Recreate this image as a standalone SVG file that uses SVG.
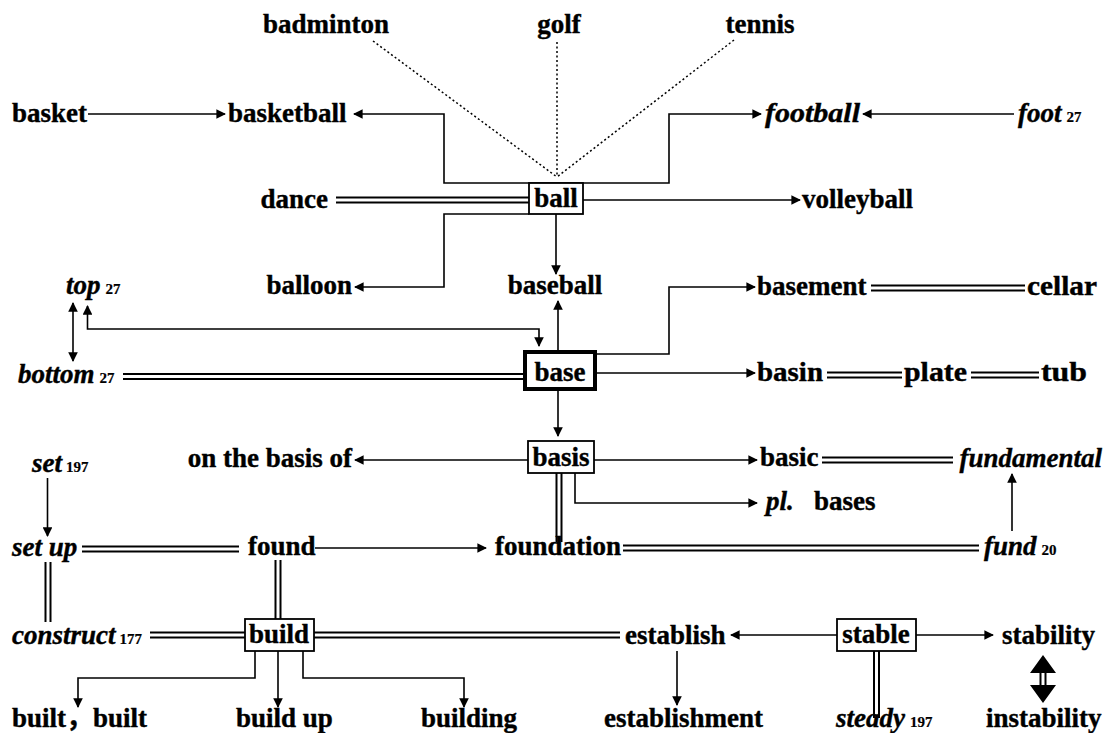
<svg xmlns="http://www.w3.org/2000/svg" width="1110" height="733" viewBox="0 0 1110 733">
<style>
text{font-family:"Liberation Serif","Times New Roman","Noto Sans CJK SC",serif;font-weight:bold;font-size:27px;fill:#000;stroke:#000;stroke-width:0.4}
.i{font-style:italic}
.s{font-size:15px;font-style:normal;stroke-width:0.2}
.m{text-anchor:middle}
.e{text-anchor:end}
.ar{fill:none;stroke:#000;stroke-width:1.6;marker-end:url(#ah)}
.ar2{fill:none;stroke:#000;stroke-width:1.6;marker-end:url(#ah);marker-start:url(#ahs)}
.dl{fill:none;stroke:#000;stroke-width:2}
.dot{fill:none;stroke:#000;stroke-width:1.5;stroke-dasharray:2 2.5}
.box{fill:#fff;stroke:#000;stroke-width:1.8}
</style>
<defs>
<marker id="ah" viewBox="0 0 10 10" refX="9" refY="5" markerWidth="6" markerHeight="6" markerUnits="strokeWidth" orient="auto"><path d="M0,0 L10,5 L0,10 z" fill="#000"/></marker>
<marker id="ahs" viewBox="0 0 10 10" refX="1" refY="5" markerWidth="6" markerHeight="6" markerUnits="strokeWidth" orient="auto"><path d="M10,0 L0,5 L10,10 z" fill="#000"/></marker>
</defs>
<rect width="1110" height="733" fill="#fff"/>
<g id="connectors">
<path class="dot" d="M373,41 L557,177 M557,42 L557,177 M734,40 L557,177"/>
<path class="ar" d="M88,114 H225"/>
<path class="ar" d="M556,183 H444 V114 H354"/>
<path class="ar" d="M556,183 H669 V114 H761"/>
<path class="ar" d="M1014,114 H863"/>
<path class="dl" d="M336,197.5 H529 M336,202.5 H529"/>
<path class="ar" d="M583,200 H800"/>
<path class="ar" d="M529,214 H444 V287 H355"/>
<path class="ar" d="M556,214 V274"/>
<path class="ar" d="M558,352 V301"/>
<path class="ar2" d="M87.5,306 V329 H539 V346"/>
<path class="ar2" d="M73,303 V361"/>
<path class="dl" d="M123,374 H525 M123,379 H525"/>
<path class="ar" d="M595,354 H669 V287 H755"/>
<path class="ar" d="M595,373 H755"/>
<path class="dl" d="M871,285.5 H1025 M871,290.5 H1025"/>
<path class="dl" d="M827,372.5 H902 M827,377.5 H902 M971,372.5 H1039 M971,377.5 H1039"/>
<path class="ar" d="M558,389 V436"/>
<path class="ar" d="M528,460 H355"/>
<path class="ar" d="M594,460 H757"/>
<path class="ar" d="M575,473 V503 H757"/>
<path class="dl" d="M556.5,473 V542 M561.5,473 V542"/>
<path class="dl" d="M822,457.5 H953 M822,462.5 H953"/>
<path class="ar" d="M1012,531 V474"/>
<path class="ar" d="M47.5,478 V536"/>
<path class="dl" d="M82,546.5 H239 M82,551.5 H239"/>
<path class="ar" d="M315,548 H486"/>
<path class="dl" d="M623,545.5 H979 M623,550.5 H979"/>
<path class="dl" d="M45.5,562 V622 M50.5,562 V622"/>
<path class="dl" d="M275.5,560 V619 M280.5,560 V619"/>
<path class="dl" d="M150,632.5 H245 M150,637.5 H245"/>
<path class="dl" d="M314,632.5 H620 M314,637.5 H620"/>
<path class="ar" d="M837,635 H731"/>
<path class="ar" d="M916,635 H993"/>
<path class="ar" d="M677,651 V705"/>
<path class="dl" d="M874,651 V718 M879,651 V718"/>
<path class="ar" d="M255,651 V678 H78 V707"/>
<path class="ar" d="M278,651 V707"/>
<path class="ar" d="M303,651 V678 H464 V707"/>
<path d="M1043,655 L1056,673 H1030 Z M1043,703 L1056,685 H1030 Z" fill="#000"/>
<path class="dl" d="M1040.5,672 V686 M1045.5,672 V686"/>
</g>
<g id="n-badminton"><text class="m" x="326" y="33">badminton</text></g>
<g id="n-golf"><text class="m" x="559" y="33">golf</text></g>
<g id="n-tennis"><text class="m" x="760" y="33">tennis</text></g>
<g id="n-basket"><text x="12" y="122">basket</text></g>
<g id="n-basketball"><text x="228" y="122">basketball</text></g>
<g id="n-football"><text class="i" x="765" y="122" textLength="95" lengthAdjust="spacingAndGlyphs">football</text></g>
<g id="n-foot"><text class="i" x="1018" y="122">foot<tspan class="s" dx="5">27</tspan></text></g>
<g id="n-dance"><text class="e" x="328" y="208">dance</text></g>
<g id="n-ball"><rect class="box" x="529" y="183" width="54" height="31"/><text class="m" x="556" y="207">ball</text></g>
<g id="n-volleyball"><text x="802" y="208">volleyball</text></g>
<g id="n-balloon"><text class="e" x="352" y="294">balloon</text></g>
<g id="n-baseball"><text class="m" x="555" y="294">baseball</text></g>
<g id="n-top"><text class="i" x="66" y="294">top<tspan class="s" dx="5">27</tspan></text></g>
<g id="n-basement"><text x="757" y="295">basement</text></g>
<g id="n-cellar"><text x="1027" y="295" textLength="70" lengthAdjust="spacingAndGlyphs">cellar</text></g>
<g id="n-bottom"><text class="i" x="18" y="383">bottom<tspan class="s" dx="5">27</tspan></text></g>
<g id="n-base"><rect x="525" y="352" width="70" height="37" fill="#fff" stroke="#000" stroke-width="4"/><text class="m" x="560" y="381">base</text></g>
<g id="n-basin"><text x="757" y="381" textLength="66" lengthAdjust="spacingAndGlyphs">basin</text></g>
<g id="n-plate"><text x="904" y="381" textLength="63" lengthAdjust="spacingAndGlyphs">plate</text></g>
<g id="n-tub"><text x="1041" y="381" textLength="46" lengthAdjust="spacingAndGlyphs">tub</text></g>
<g id="n-onthebasisof"><text class="e" x="352" y="467">on the basis of</text></g>
<g id="n-basis"><rect class="box" x="528" y="441" width="66" height="32"/><text class="m" x="561" y="466">basis</text></g>
<g id="n-basic"><text x="760" y="466">basic</text></g>
<g id="n-fundamental"><text class="i e" x="1102" y="467">fundamental</text></g>
<g id="n-set"><text class="i" x="32" y="472">set<tspan class="s" dx="4">197</tspan></text></g>
<g id="n-bases"><text x="766" y="510"><tspan class="i">pl.</tspan><tspan x="814">bases</tspan></text></g>
<g id="n-setup"><text class="i" x="12" y="556">set up</text></g>
<g id="n-found"><text x="248" y="555">found</text></g>
<g id="n-foundation"><text x="495" y="555">foundation</text></g>
<g id="n-fund"><text class="i" x="984" y="555">fund<tspan class="s" dx="5">20</tspan></text></g>
<g id="n-construct"><text class="i" x="12" y="644">construct<tspan class="s" dx="4">177</tspan></text></g>
<g id="n-build"><rect class="box" x="245" y="619" width="69" height="32"/><text class="m" x="279" y="643">build</text></g>
<g id="n-establish"><text x="625" y="644">establish</text></g>
<g id="n-stable"><rect class="box" x="837" y="619" width="79" height="32"/><text class="m" x="876" y="643">stable</text></g>
<g id="n-stability"><text x="1002" y="644">stability</text></g>
<g id="n-built"><text x="12" y="727">built，built</text></g>
<g id="n-buildup"><text x="236" y="727">build up</text></g>
<g id="n-building"><text x="421" y="727">building</text></g>
<g id="n-establishment"><text x="604" y="727">establishment</text></g>
<g id="n-steady"><text class="i" x="836" y="727">steady<tspan class="s" dx="5">197</tspan></text></g>
<g id="n-instability"><text x="986" y="727">instability</text></g>
</svg>
